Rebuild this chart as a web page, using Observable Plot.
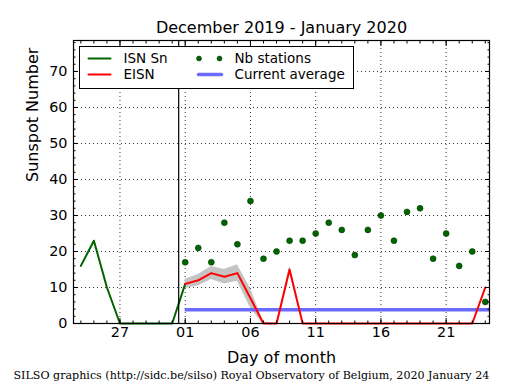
<!DOCTYPE html>
<html><head><meta charset="utf-8">
<script src="https://cdn.jsdelivr.net/npm/d3@7"></script>
<script src="https://cdn.jsdelivr.net/npm/@observablehq/plot@0.6"></script>
<style>body{margin:0;background:#fff} #chart svg{display:block}</style>
</head><body><div id="chart"></div>
<script>
const title = "December 2019 - January 2020";
const yTitle = "Sunspot Number";
const xTitle = "Day of month";
const caption = "SILSO graphics (http://sidc.be/silso) Royal Observatory of Belgium, 2020 January 24";

// ISN Sn (daily values, end of previous month)
const isnDates = ["2019-12-24","2019-12-25","2019-12-26","2019-12-27","2019-12-28","2019-12-29","2019-12-30","2019-12-31","2020-01-01"];
const isnValues = [16, 23, 10, 0, 0, 0, 0, 0, 11];

// EISN (estimated) for January 2020
const eisnDates = ["2020-01-01","2020-01-02","2020-01-03","2020-01-04","2020-01-05","2020-01-06","2020-01-07","2020-01-08",
  "2020-01-09","2020-01-10","2020-01-11","2020-01-12","2020-01-13","2020-01-14","2020-01-15","2020-01-16",
  "2020-01-17","2020-01-18","2020-01-19","2020-01-20","2020-01-21","2020-01-22","2020-01-23","2020-01-24"];
const eisnValues = [11, 12, 14, 13, 14, 7, 0, 0, 15, 0, 0, 0, 0, 0, 0, 0, 0, 0, 0, 0, 0, 0, 0, 10];
const eisnError  = [1.3, 1.6, 1.8, 2, 2.3, 2.7, 0.4, 0, 1, 0, 0, 0, 0, 0, 0, 0, 0, 0, 0, 0, 0, 0, 0, 0.3];
const nbStations = [17, 21, 17, 28, 22, 34, 18, 20, 23, 23, 25, 28, 26, 19, 26, 30, 23, 31, 32, 18, 25, 16, 20, 6];

const currentAverage = 3.8;
const averageStart = "2020-01-01";
const monthBoundary = "2019-12-31T12:00Z";

const xTickDates = ["2019-12-27","2020-01-01","2020-01-06","2020-01-11","2020-01-16","2020-01-21"];
const xTickLabels = ["27","01","06","11","16","21"];
const yTicks = [0, 10, 20, 30, 40, 50, 60, 70];

const legendLabels = ["ISN Sn", "EISN", "Nb stations", "Current average"];

const day = s => new Date(s + "T00:00Z");
const xDomain = [new Date("2019-12-23T10:30Z"), new Date("2020-01-24T07:45Z")];
const yDomain = [0, 78.6];

const isn = isnDates.map((d, i) => ({date: day(d), value: isnValues[i]}));
const eisn = eisnDates.map((d, i) => ({date: day(d), value: eisnValues[i], lo: eisnValues[i] - eisnError[i], hi: eisnValues[i] + eisnError[i], stations: nbStations[i]}));
const xTicks = xTickDates.map(day);
const tickLabel = new Map(xTicks.map((d, i) => [+d, xTickLabels[i]]));
const xMinor = d3.utcDay.range(xDomain[0], xDomain[1]);
const yMinor = d3.range(0, 79, 2);

const GREEN = "#006400", RED = "#ff0000", BLUE = "#6b6bff", BAND = "#c4c4c4";
const seg = {draw(ctx, l) { ctx.moveTo(0, 0); ctx.lineTo(0, -l); }};
const dotted = {stroke: "black", strokeOpacity: 1, strokeWidth: 0.8, strokeDasharray: "1,3"};
const mid = {lineAnchor: "middle"};

const chart = Plot.plot({
  width: 515, height: 390,
  marginLeft: 73, marginRight: 26, marginTop: 40, marginBottom: 67,
  style: {fontFamily: "DejaVu Sans", fontSize: "14.4px", color: "black", background: "white"},
  x: {type: "utc", domain: xDomain},
  y: {domain: yDomain},
  marks: [
    Plot.gridY(yTicks.slice(1), dotted),
    Plot.gridX(xTicks, dotted),
    Plot.areaY(eisn, {x: "date", y1: "lo", y2: "hi", fill: BAND, clip: true}),
    Plot.line(isn, {x: "date", y: "value", stroke: GREEN, strokeWidth: 2}),
    Plot.ruleY([currentAverage], {x1: day(averageStart), x2: xDomain[1], stroke: BLUE, strokeWidth: 3.5}),
    Plot.line(eisn, {x: "date", y: "value", stroke: RED, strokeWidth: 2}),
    Plot.dot(eisn, {x: "date", y: "stations", r: 3, fill: GREEN, stroke: "#003300", strokeWidth: 0.5}),
    Plot.ruleX([new Date(monthBoundary)], {stroke: "black", strokeWidth: 1.2}),
    Plot.frame({stroke: "black", strokeWidth: 1.2}),
    // axes
    Plot.axisY({ticks: yTicks, anchor: "left", tickSize: 0, tickPadding: 6, label: null, fontSize: 14.4}),
    Plot.axisY({ticks: yTicks, anchor: "left", tickSize: -5, fill: "none", label: null}),
    Plot.axisY({ticks: yTicks, anchor: "right", tickSize: -5, fill: "none", label: null}),
    Plot.axisY({ticks: yMinor, anchor: "left", tickSize: -2.5, fill: "none", label: null}),
    Plot.axisY({ticks: yMinor, anchor: "right", tickSize: -2.5, fill: "none", label: null}),
    Plot.axisX({ticks: xTicks, anchor: "bottom", tickSize: 0, tickPadding: 3, label: null, fontSize: 14.4, tickFormat: d => tickLabel.get(+d)}),
    Plot.axisX({ticks: xTicks, anchor: "bottom", tickSize: -5, fill: "none", label: null}),
    Plot.axisX({ticks: xTicks, anchor: "top", tickSize: -5, fill: "none", label: null}),
    Plot.axisX({ticks: xMinor, anchor: "bottom", tickSize: -2.5, fill: "none", label: null}),
    Plot.axisX({ticks: xMinor, anchor: "top", tickSize: -2.5, fill: "none", label: null}),
    // titles
    Plot.text([title], {frameAnchor: "top", dy: -13, fontSize: 16, ...mid}),
    Plot.text([yTitle], {frameAnchor: "left", dx: -41, rotate: -90, fontSize: 16, ...mid}),
    Plot.text([xTitle], {frameAnchor: "bottom", dy: 34, fontSize: 16, ...mid}),
    Plot.text([caption], {frameAnchor: "bottom-left", dx: -60, dy: 52, textAnchor: "start", fontSize: 11.1, fontFamily: "DejaVu Serif", ...mid}),
    // legend
    Plot.frame({insetLeft: 6, insetTop: 6, insetRight: 136, insetBottom: 235, fill: "white", stroke: "black", strokeWidth: 1}),
    Plot.vector([0], {frameAnchor: "top-left", dx: 15, dy: 18, length: 22, rotate: 90, anchor: "start", shape: seg, stroke: GREEN, strokeWidth: 2}),
    Plot.vector([0], {frameAnchor: "top-left", dx: 15, dy: 34, length: 22, rotate: 90, anchor: "start", shape: seg, stroke: RED, strokeWidth: 2}),
    Plot.dot([0], {frameAnchor: "top-left", dx: 125.5, dy: 18, r: 2.5, fill: GREEN, stroke: "#003300", strokeWidth: 0.5}),
    Plot.dot([0], {frameAnchor: "top-left", dx: 146, dy: 18, r: 2.5, fill: GREEN, stroke: "#003300", strokeWidth: 0.5}),
    Plot.vector([0], {frameAnchor: "top-left", dx: 125, dy: 34, length: 23, rotate: 90, anchor: "start", shape: seg, stroke: BLUE, strokeWidth: 3.5}),
    Plot.text([legendLabels[0]], {frameAnchor: "top-left", dx: 50, dy: 18, textAnchor: "start", fontSize: 13.5, ...mid}),
    Plot.text([legendLabels[1]], {frameAnchor: "top-left", dx: 50, dy: 34, textAnchor: "start", fontSize: 13.5, ...mid}),
    Plot.text([legendLabels[2]], {frameAnchor: "top-left", dx: 161, dy: 18, textAnchor: "start", fontSize: 13.5, ...mid}),
    Plot.text([legendLabels[3]], {frameAnchor: "top-left", dx: 161, dy: 34, textAnchor: "start", fontSize: 13.5, ...mid})
  ]
});
document.getElementById("chart").appendChild(chart);
</script></body></html>
